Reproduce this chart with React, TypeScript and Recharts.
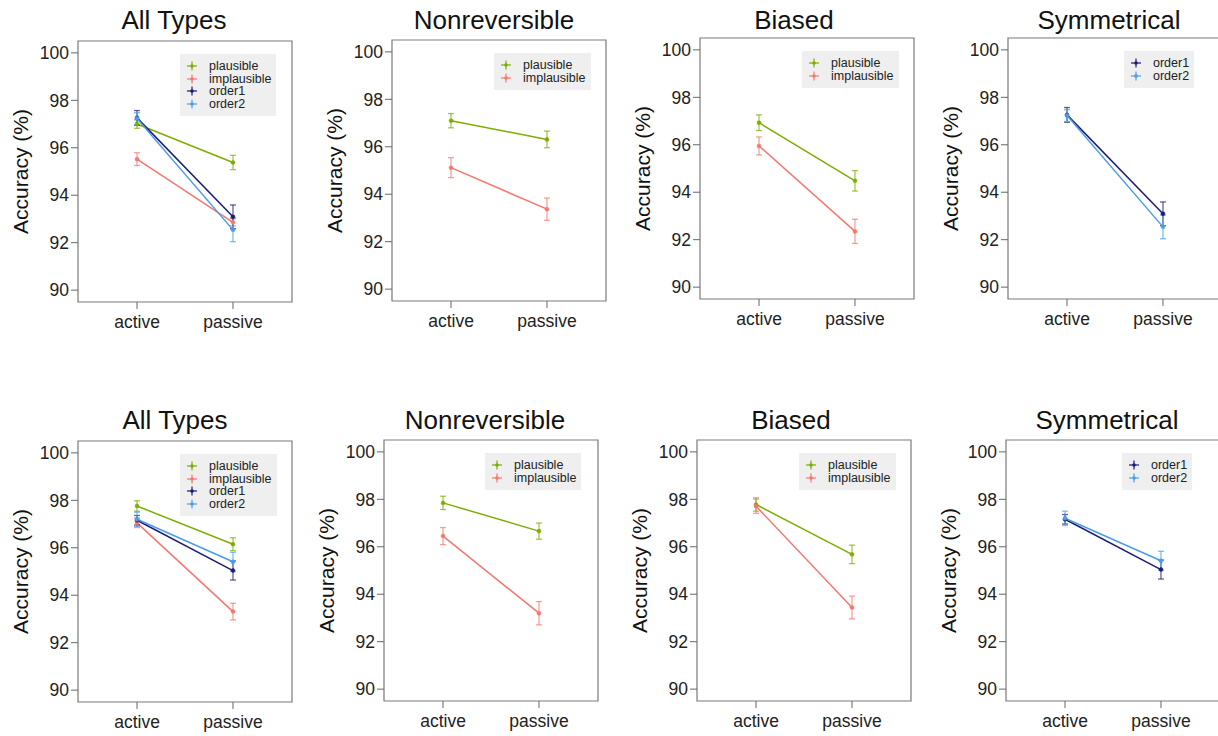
import { LineChart, Line, XAxis, YAxis, ErrorBar, ReferenceArea } from 'recharts';

// categories and axis ticks
const voices = ['active', 'passive'];
const yTicks = [90, 92, 94, 96, 98, 100];

// top row: means and standard errors, active / passive
const e1AllPlaus = [97.0, 95.38];
const e1AllPlausSe = [0.18, 0.3];
const e1AllImpl = [95.52, 92.86];
const e1AllImplSe = [0.27, 0.15];
const e1Order1 = [97.26, 93.09];
const e1Order1Se = [0.31, 0.5];
const e1Order2 = [97.23, 92.54];
const e1Order2Se = [0.25, 0.5];
const e1NonPlaus = [97.1, 96.31];
const e1NonPlausSe = [0.3, 0.35];
const e1NonImpl = [95.12, 93.37];
const e1NonImplSe = [0.42, 0.47];
const e1BiasPlaus = [96.93, 94.48];
const e1BiasPlausSe = [0.33, 0.43];
const e1BiasImpl = [95.95, 92.35];
const e1BiasImplSe = [0.38, 0.51];

// bottom row
const e2AllPlaus = [97.76, 96.15];
const e2AllPlausSe = [0.22, 0.27];
const e2AllImpl = [97.05, 93.31];
const e2AllImplSe = [0.2, 0.35];
const e2Order1 = [97.16, 95.04];
const e2Order1Se = [0.2, 0.4];
const e2Order2 = [97.2, 95.41];
const e2Order2Se = [0.3, 0.4];
const e2NonPlaus = [97.85, 96.66];
const e2NonPlausSe = [0.28, 0.34];
const e2NonImpl = [96.45, 93.2];
const e2NonImplSe = [0.36, 0.49];
const e2BiasPlaus = [97.78, 95.68];
const e2BiasPlausSe = [0.28, 0.39];
const e2BiasImpl = [97.71, 93.44];
const e2BiasImplSe = [0.3, 0.48];

const COLORS: Record<string, string> = {
  plausible: '#7cae00',
  implausible: '#f8766d',
  order1: '#1c1c78',
  order2: '#4b9de6',
};

const FONT = '"Liberation Sans", Arial, sans-serif';
const X_DOMAIN: [number, number] = [0.385, 2.615];
const Y_DOMAIN: [number, number] = [89.5, 100.5];
const PLOT_W = 214;
const PLOT_H = 261;
const AXIS_W = 78;
const AXIS_H = 40;

type Series = { name: string; mean: number[]; se: number[] };

const toPoints = (s: Series) =>
  voices.map((_, i) => ({ x: i + 1, y: s.mean[i], se: s.se[i] }));

type PanelProps = {
  title: string;
  titleX: number;
  rowTop: number;
  boxLeft: number;
  boxTop: number;
  legendDx: number;
  legendW: number;
  series: Series[];
};

const LegendBox = ({ series, left, top, width }: { series: Series[]; left: number; top: number; width: number }) => (
  <div
    style={{
      position: 'absolute',
      left,
      top,
      width,
      background: '#efefef',
      padding: '6px 0 6px 0',
      fontFamily: FONT,
      fontSize: 12.5,
      color: '#222',
      boxSizing: 'border-box',
    }}
  >
    {series.map((s) => (
      <div key={s.name} style={{ display: 'flex', alignItems: 'center', height: 12.5 }}>
        <svg width={12} height={12} style={{ marginLeft: 6, marginRight: 11 }}>
          <line x1={1} x2={11} y1={6} y2={6} stroke={COLORS[s.name]} strokeWidth={1.2} />
          <line x1={6} x2={6} y1={1.5} y2={10.5} stroke={COLORS[s.name]} strokeWidth={1.2} />
          <circle cx={6} cy={6} r={1.8} fill={COLORS[s.name]} />
        </svg>
        <span style={{ lineHeight: '12px' }}>{s.name}</span>
      </div>
    ))}
  </div>
);

const Panel = ({ title, titleX, rowTop, boxLeft, boxTop, legendDx, legendW, series }: PanelProps) => {
  const marginTop = boxTop - rowTop;
  return (
    <>
      <div
        style={{
          position: 'absolute',
          left: titleX - 110,
          width: 220,
          top: rowTop + 7,
          textAlign: 'center',
          fontFamily: FONT,
          fontSize: 26,
          lineHeight: '26px',
          color: '#111',
          whiteSpace: 'nowrap',
        }}
      >
        {title}
      </div>
      <div style={{ position: 'absolute', left: boxLeft - AXIS_W, top: rowTop }}>
        <LineChart
          width={AXIS_W + PLOT_W + 8}
          height={marginTop + PLOT_H + AXIS_H}
          margin={{ top: marginTop, right: 8, bottom: 0, left: 0 }}
          style={{ fontFamily: FONT }}
        >
          <XAxis
            type="number"
            dataKey="x"
            domain={X_DOMAIN}
            ticks={[1, 2]}
            allowDataOverflow
            tickFormatter={(v: number) => voices[v - 1]}
            axisLine={false}
            tickLine={{ stroke: '#666' }}
            tickSize={7}
            tickMargin={7}
            height={AXIS_H}
            tick={{ fontSize: 17.5, fill: '#222' }}
          />
          <YAxis
            type="number"
            domain={Y_DOMAIN}
            ticks={yTicks}
            allowDataOverflow
            axisLine={false}
            tickLine={{ stroke: '#666' }}
            tickSize={7}
            tickMargin={2}
            width={AXIS_W}
            tick={{ fontSize: 17.5, fill: '#222' }}
            label={{
              value: 'Accuracy (%)',
              angle: -90,
              position: 'insideLeft',
              offset: 21,
              style: { textAnchor: 'middle', fontSize: 21, fill: '#111' },
            }}
          />
          <ReferenceArea
            x1={X_DOMAIN[0]}
            x2={X_DOMAIN[1]}
            y1={Y_DOMAIN[0]}
            y2={Y_DOMAIN[1]}
            fill="none"
            stroke="#7a7a7a"
            strokeWidth={1.2}
            ifOverflow="visible"
          />
          {series.map((s) => (
            <Line
              key={s.name}
              data={toPoints(s)}
              dataKey="y"
              name={s.name}
              type="linear"
              stroke={COLORS[s.name]}
              strokeWidth={1.5}
              dot={{ r: 2, fill: COLORS[s.name], stroke: COLORS[s.name], strokeWidth: 0.5 }}
              isAnimationActive={false}
            >
              <ErrorBar
                dataKey="se"
                direction="y"
                width={3}
                stroke={COLORS[s.name]}
                strokeWidth={1.3}
                strokeOpacity={0.7}
                isAnimationActive={false}
              />
            </Line>
          ))}
        </LineChart>
      </div>
      <LegendBox series={series} left={boxLeft + legendDx} top={boxTop + 13} width={legendW} />
    </>
  );
};

const plaus = (mean: number[], se: number[]): Series => ({ name: 'plausible', mean, se });
const impl = (mean: number[], se: number[]): Series => ({ name: 'implausible', mean, se });
const ord = (name: string, mean: number[], se: number[]): Series => ({ name, mean, se });

const topRow: PanelProps[] = [
  {
    title: 'All Types', titleX: 174, rowTop: 0, boxLeft: 78, boxTop: 41, legendDx: 102, legendW: 96,
    series: [
      plaus(e1AllPlaus, e1AllPlausSe),
      impl(e1AllImpl, e1AllImplSe),
      ord('order1', e1Order1, e1Order1Se),
      ord('order2', e1Order2, e1Order2Se),
    ],
  },
  {
    title: 'Nonreversible', titleX: 494, rowTop: 0, boxLeft: 392, boxTop: 40, legendDx: 102, legendW: 97,
    series: [plaus(e1NonPlaus, e1NonPlausSe), impl(e1NonImpl, e1NonImplSe)],
  },
  {
    title: 'Biased', titleX: 794, rowTop: 0, boxLeft: 700, boxTop: 38, legendDx: 102, legendW: 97,
    series: [plaus(e1BiasPlaus, e1BiasPlausSe), impl(e1BiasImpl, e1BiasImplSe)],
  },
  {
    title: 'Symmetrical', titleX: 1109, rowTop: 0, boxLeft: 1008, boxTop: 38, legendDx: 116, legendW: 70,
    series: [ord('order1', e1Order1, e1Order1Se), ord('order2', e1Order2, e1Order2Se)],
  },
];

const bottomRow: PanelProps[] = [
  {
    title: 'All Types', titleX: 175, rowTop: 400, boxLeft: 78, boxTop: 441, legendDx: 102, legendW: 97,
    series: [
      plaus(e2AllPlaus, e2AllPlausSe),
      impl(e2AllImpl, e2AllImplSe),
      ord('order1', e2Order1, e2Order1Se),
      ord('order2', e2Order2, e2Order2Se),
    ],
  },
  {
    title: 'Nonreversible', titleX: 485, rowTop: 400, boxLeft: 384, boxTop: 440, legendDx: 101, legendW: 96,
    series: [plaus(e2NonPlaus, e2NonPlausSe), impl(e2NonImpl, e2NonImplSe)],
  },
  {
    title: 'Biased', titleX: 791, rowTop: 400, boxLeft: 697, boxTop: 440, legendDx: 102, legendW: 97,
    series: [plaus(e2BiasPlaus, e2BiasPlausSe), impl(e2BiasImpl, e2BiasImplSe)],
  },
  {
    title: 'Symmetrical', titleX: 1107, rowTop: 400, boxLeft: 1006, boxTop: 440, legendDx: 116, legendW: 70,
    series: [ord('order1', e2Order1, e2Order1Se), ord('order2', e2Order2, e2Order2Se)],
  },
];

export default function App() {
  return (
    <div
      style={{
        position: 'absolute',
        left: 0,
        top: 0,
        width: 1218,
        height: 736,
        overflow: 'hidden',
        background: '#fff',
      }}
    >
      {[...topRow, ...bottomRow].map((p) => (
        <Panel key={p.title + p.rowTop} {...p} />
      ))}
    </div>
  );
}
